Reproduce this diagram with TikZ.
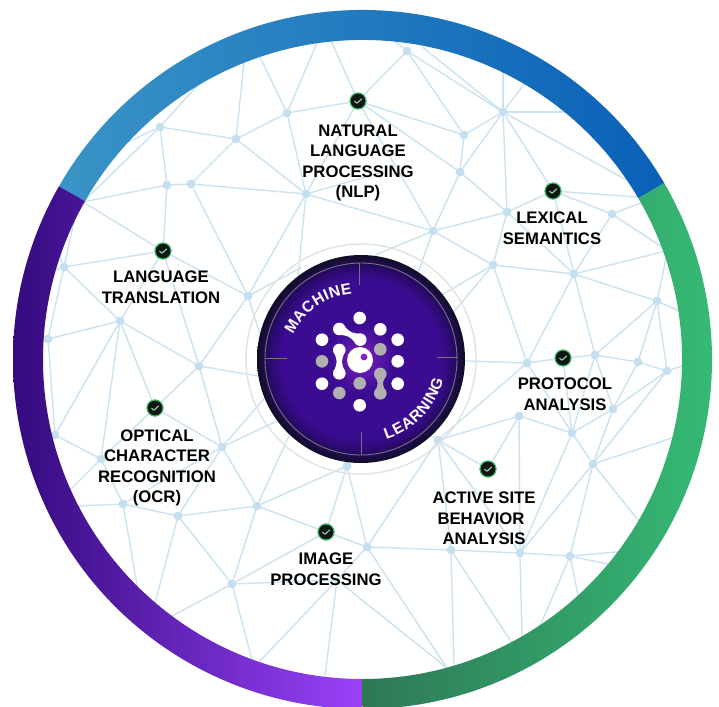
\documentclass[tikz,border=0pt]{standalone}
\usepackage{fontspec}
\setmainfont{Liberation Sans}
\newfontfamily\hubfont{Liberation Sans}
\usetikzlibrary{decorations.text}
\definecolor{netcol}{HTML}{CBE2F0}
\definecolor{dotcol}{HTML}{C4E0F0}
\definecolor{badgefill}{HTML}{101614}
\definecolor{badgeedge}{HTML}{3FBF6C}
\definecolor{tickmark}{HTML}{A0E8B4}
\definecolor{hubline}{HTML}{77727F}
\definecolor{halo}{HTML}{E2E2E2}
\definecolor{icongray}{HTML}{B0B0B0}
\definecolor{iconpurple}{HTML}{8A20C8}
\definecolor{bluea}{HTML}{3A94C6}
\definecolor{blueb}{HTML}{0A60B8}
\definecolor{purpa}{HTML}{340A7E}
\definecolor{purpb}{HTML}{9A42FA}
\definecolor{purpm}{HTML}{4F169E}
\definecolor{greena}{HTML}{2E7856}
\definecolor{greenb}{HTML}{35BA74}
\definecolor{hubc}{HTML}{7A20B8}
\definecolor{hubd}{HTML}{5416A4}
\definecolor{hube}{HTML}{3B0C92}
\definecolor{hubf}{HTML}{2A0A6C}
\definecolor{hubg}{HTML}{100E24}
\pgfdeclareradialshading{hubshade}{\pgfpointorigin}{%
  color(0bp)=(hubc);
  color(4.8bp)=(hubd);
  color(8.4bp)=(hube);
  color(19.2bp)=(hube);
  color(22.1bp)=(hubf);
  color(25bp)=(hubg);
  color(50bp)=(hubg)}
\tikzset{
  netline/.style={draw=netcol,line width=1.4pt},
  netfree/.style={netline,shorten >=-5pt},
  netdot/.style={circle,fill=dotcol,inner sep=0pt,minimum size=8pt},
  badge/.style={circle,fill=badgefill,draw=badgeedge,line width=1pt,inner sep=0pt,minimum size=16pt},
  tickline/.style={draw=tickmark,line width=1pt,line cap=round,line join=round},
  lab/.style={align=center,text=black,inner sep=0pt,font=\bfseries\fontsize{16.7}{20.5}\selectfont},
  whitedot/.style={fill=white},
  graydot/.style={fill=icongray},
}
\newcommand{\dumbbell}[5]{% x y length angle style
  \begin{scope}[shift={(#1,#2)},rotate=#4]
  \fill[#5] (0,0) circle[radius=6.3] (#3,0) circle[radius=6.3];
  \fill[#5] (1,5.8) .. controls (#3/2,1.6) .. (#3-1,5.8) -- (#3-1,-5.8) .. controls (#3/2,-1.6) .. (1,-5.8) -- cycle;
  \end{scope}}
\begin{document}
\begin{tikzpicture}[x=1pt,y=1pt]
\useasboundingbox (0,0) rectangle (719,-706);
\fill[white] (0,0) rectangle (719,-706);
% network nodes
\foreach \n/\x/\y in {a1/160/127,a2/236/139,a3/287/113,a4/167/185,a5/191/184,a6/306/194,a8/64/267,a9/120/321,a10/48/339,a11/248/296,
 b1/407/51,b2/503/112,b3/464/135,b4/460/172,b5/507/212,b6/433/231,b7/493/265,b8/574/274,b9/612/214,b10/657/301,
 c1/199/366,c2/222/447,c3/55/435,c4/101/459,c5/123/504,c6/178/516,c7/257/506,c8/347/466,c9/232/584,
 d1/527/363,d2/595/355,d3/638/362,d4/667/371,d5/613/409,d6/519/416,d7/572/433,d8/438/440,d9/593/464,d10/367/547,d11/451/550,d12/520/553,d13/570/556}
 {\node[netdot] (\n) at (\x,-\y) {};}
\coordinate (n0) at (337,-580);
\coordinate (m0) at (383,-172);
\foreach \n/\x/\y in {nlp/358/101,lex/553/191,lang/163/251,ocr/155/408,proto/563/358,site/488/469,img/326/532}
 {\node[badge] (\n) at (\x,-\y) {};}
% free ends under the ring and under the hub
\foreach \n/\x/\y in {r1/195/88,r2/132/140,r3/83/202,r4/244/63,r5/260/57,r6/317/43,r7/332/43,r8/397/43,r9/426/50,r10/503/75,r11/522/87,r12/560/112,r13/623/178,r14/637/197,r15/638/204,r16/662/247,r17/662/252,r18/665/263,r19/677/310,r20/682/366,r21/672/438,r22/638/520,r23/617/552,r24/608/564,r25/578/595,r26/540/626,r27/522/636,r28/512/643,r29/454/666,r30/447/668,r31/325/676,r32/260/661,r33/252/660,r34/172/616,r35/155/603,r36/137/585,r37/78/506,r38/70/490,r39/77/208,r40/55/270,r41/60/257,r42/44/339,
 h1/297/270,h2/297/287,h3/258/328,h4/258/376,h5/263/400,h6/277/421,h7/288/438,h8/347/460,h9/420/267,h10/380/253,h11/445/293,h12/457/308,h13/467/361,h14/425/432}
 {\coordinate (\n) at (\x,-\y);}
% connectors
\foreach \a/\b in {a1/a2,a1/a4,a2/a3,a2/a5,a2/a6,a3/nlp,a3/a6,a4/a5,a4/lang,a5/a6,a5/a11,a6/a11,a6/nlp,a6/b6,a6/m0,
 lang/a8,lang/a11,lang/a9,lang/c1,a8/a9,a9/a10,a9/c3,a9/c4,a9/ocr,a9/c1,a10/c3,a11/c1,
 c1/ocr,c1/c2,ocr/c2,ocr/c4,c2/c7,c2/c6,c2/c5,c3/c4,c4/c5,c5/c6,c6/c7,c6/c9,c7/c9,c7/c8,c7/img,c8/img,c8/d10,
 c9/img,c9/n0,d10/n0,img/d10,d10/d8,d10/d11,d11/d12,d11/d8,d12/d8,d8/site,d8/d6,d8/d1,d12/d13,d12/d9,d6/d12,d13/d9,
 d9/d7,d9/d5,d9/d4,d7/d6,d7/d5,d7/proto,d7/d1,d7/d2,d7/d12,d6/site,d5/d2,d5/d3,d5/d4,d1/proto,proto/d2,d2/d3,d3/d4,
 b7/d1,b8/d1,b8/d2,b10/d2,b10/d3,b10/d4,b10/b8,b8/b7,b8/b5,b8/b9,b8/lex,lex/b5,lex/b2,lex/b9,
 b2/b1,b2/b3,b2/b4,b2/b5,b1/nlp,b1/b3,b3/nlp,b3/b4,b4/nlp,b4/b5,b4/b6,b5/b6,b5/b7,b6/b7,b6/nlp}
 {\draw[netline] (\a) -- (\b);}
\foreach \a/\b in {a1/r1,a1/r2,a1/r3,a4/r3,lang/r3,a2/r4,a3/r5,a3/r6,nlp/r7,b1/r8,b2/r9,b2/r10,b2/r11,b2/r12,b2/r13,lex/r14,b9/r15,b9/r16,b8/r17,b10/r18,b10/r19,d4/r20,d9/r21,d9/r22,d13/r23,d13/r24,d13/r25,d13/r26,d12/r27,d11/r28,d11/r29,n0/r30,d10/r30,n0/r31,n0/r32,c9/r33,c9/r34,c6/r35,c5/r36,c5/r37,c4/r38,a10/r39,a8/r40,a8/r41,a10/r42,
 a6/h2,a11/h1,a11/h3,c1/h4,c2/h5,c2/h6,c7/h7,c8/h8,b6/h9,b6/h10,b7/h11,b7/h12,d1/h13,d8/h14}
 {\draw[netfree] (\a) -- (\b);}
% redraw dots above the lines
\foreach \x/\y in {160/127,236/139,287/113,167/185,191/184,306/194,64/267,120/321,48/339,248/296,
 407/51,503/112,464/135,460/172,507/212,433/231,493/265,574/274,612/214,657/301,
 199/366,222/447,55/435,101/459,123/504,178/516,257/506,347/466,232/584,
 527/363,595/355,638/362,667/371,613/409,519/416,572/433,438/440,593/464,367/547,451/550,520/553,570/556}
 {\fill[dotcol] (\x,-\y) circle[radius=4.4];}
\foreach \b in {nlp,lex,lang,ocr,proto,site,img}
 {\node[badge] at (\b) {};
  \draw[tickline] ([shift={(-3.4,-0.2)}]\b.center) -- ([shift={(-1,-2.2)}]\b.center) -- ([shift={(3.6,2)}]\b.center);}
% outer ring
\def\ringpath#1#2{(362.5,-359.5) ++(#1:349.5) arc[start angle=#1,end angle=#2,radius=349.5] -- ++(#2:-30) arc[start angle=#2,end angle=#1,radius=319.5] -- cycle}
\begin{scope}
 \clip \ringpath{30.3}{150.3};
 \shade[left color=bluea,right color=blueb] (55,0) rectangle (665,-210);
\end{scope}
\begin{scope}
 \clip \ringpath{150.3}{270};
 \shade[left color=purpa,middle color=purpm,right color=purpb] (13,-180) rectangle (362.5,-712);
\end{scope}
\begin{scope}
 \clip \ringpath{-90}{30.3};
 \shade[left color=greena,right color=greenb] (362.5,-180) rectangle (714,-712);
\end{scope}
% hub
\draw[halo,line width=1.4pt] (361,-359) circle[radius=115];
\shade[shading=hubshade] (361,-359) circle[radius=104];
\draw[hubline,line width=.9pt] (361,-359) circle[radius=96];
\draw[hubline,line width=.9pt] (359.5,-262.5) -- (359.5,-285);
\draw[hubline,line width=.9pt] (437,-357) -- (457.5,-357);
\draw[hubline,line width=.9pt] (265,-358.5) -- (287,-358.5);
\draw[hubline,line width=.9pt] (361,-432) -- (361,-455);
% icon
\foreach \x/\y in {359.7/318,380.3/329.3,397.7/339.7,397.7/361.3,397.7/383.7,359.7/405.3,322/339.7,322/383.7}
 {\fill[whitedot] (\x,-\y) circle[radius=6.3];}
\foreach \x/\y in {380.3/349.3,322/361.3,359.7/383.3,339.3/393}
 {\fill[graydot] (\x,-\y) circle[radius=6.3];}
\dumbbell{380.3}{-374}{19.3}{-90}{graydot}
\dumbbell{339.3}{-350}{23.3}{-90}{whitedot}
\dumbbell{339.3}{-329}{23.5}{-27}{whitedot}
\fill[white] (360,-360) circle[radius=13];
\fill[iconpurple] (364,-357) circle[radius=3.4];
% curved titles
\path[decorate,decoration={text along path,text={|\hubfont\bfseries\fontsize{15.5}{15.5}\selectfont\color{white}|MACHINE},text align={fit to path}}]
 (293,-335) to[bend left=28] (352,-294);
\path[decorate,decoration={text along path,text={|\hubfont\bfseries\fontsize{15.5}{15.5}\selectfont\color{white}|LEARNING},text align={fit to path}}]
 (361,-358) ++(-72.6:85) arc[start angle=-72.6,end angle=-14.7,radius=85];
% labels
\node[lab] (tnlp) at (358,-163) {NATURAL\\LANGUAGE\\PROCESSING\\(NLP)};
\node[lab] (tlex) at (552,-228) {LEXICAL\\SEMANTICS};
\node[lab] (tlang) at (161,-287) {LANGUAGE\\TRANSLATION};
\node[lab] (tocr) at (157,-468) {OPTICAL\\CHARACTER\\RECOGNITION\\(OCR)};
\node[lab] (tproto) at (565,-394) {PROTOCOL\\ANALYSIS};
\node[lab] (tsite) at (484,-518.5) {ACTIVE SITE\\BEHAVIOR\kern6pt\\ANALYSIS};
\node[lab] (timg) at (326,-569) {IMAGE\\PROCESSING};
\end{tikzpicture}
\end{document}
